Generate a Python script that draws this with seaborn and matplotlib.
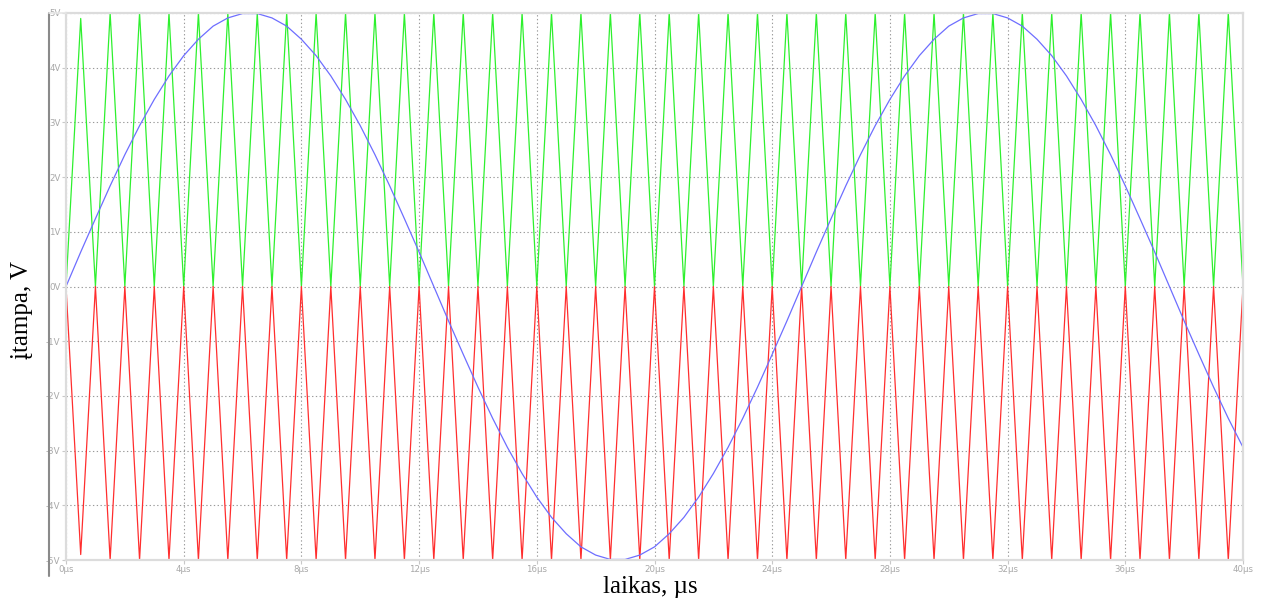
import numpy as np
import pandas as pd
import matplotlib
matplotlib.use("Agg")
import matplotlib.pyplot as plt
from matplotlib.lines import Line2D
import seaborn as sns

# --- waveform data (time in µs, voltage in V) ---
# modulating sine, sampled every 0.5 µs
sine_t = [k * 0.5 for k in range(81)]
sine_v = [0.00, 0.63, 1.24, 1.84, 2.41, 2.94, 3.42, 3.85, 4.22, 4.52,
          4.76, 4.91, 4.99, 4.99, 4.91, 4.76, 4.52, 4.22, 3.85, 3.42,
          2.94, 2.41, 1.84, 1.24, 0.63, 0.00, -0.63, -1.24, -1.84, -2.41,
          -2.94, -3.42, -3.85, -4.22, -4.52, -4.76, -4.91, -4.99, -4.99, -4.91,
          -4.76, -4.52, -4.22, -3.85, -3.42, -2.94, -2.41, -1.84, -1.24, -0.63,
          0.00, 0.63, 1.24, 1.84, 2.41, 2.94, 3.42, 3.85, 4.22, 4.52,
          4.76, 4.91, 4.99, 4.99, 4.91, 4.76, 4.52, 4.22, 3.85, 3.42,
          2.94, 2.41, 1.84, 1.24, 0.63, 0.00, -0.63, -1.24, -1.84, -2.41,
          -2.94]

# triangular carriers: one peak per 1 µs period, zero at whole microseconds
carrier_period = 1.0
pos_peaks = [4.9] + [5.0] * 39
neg_peaks = [-4.9] + [-5.0] * 39

y_ticks = [5, 4, 3, 2, 1, 0, -1, -2, -3, -4, -5]
y_tick_labels = ["5V", "4V", "3V", "2V", "1V", "0V", "-1V", "-2V", "-3V", "-4V", "-5V"]
x_ticks = [0, 4, 8, 12, 16, 20, 24, 28, 32, 36, 40]
x_tick_labels = ["0µs", "4µs", "8µs", "12µs", "16µs", "20µs", "24µs",
                 "28µs", "32µs", "36µs", "40µs"]


def carrier_frame(peaks, name):
    t, v = [0.0], [0.0]
    for k, p in enumerate(peaks):
        t += [(k + 0.5) * carrier_period, (k + 1) * carrier_period]
        v += [p, 0.0]
    return pd.DataFrame({"t": t, "v": v, "series": name})


df_pos = carrier_frame(pos_peaks, "pos")
df_neg = carrier_frame(neg_peaks, "neg")
df_sine = pd.DataFrame({"t": sine_t, "v": sine_v, "series": "sine"})

sns.set_theme(style="white")
plt.rcParams["font.family"] = ["DejaVu Sans"]

fig = plt.figure(figsize=(12.61, 5.99), dpi=100)
ax = fig.add_axes([66 / 1261, 1 - 560 / 599, (1243 - 66) / 1261, (560 - 13) / 599])

lw = 0.9
sns.lineplot(data=df_pos, x="t", y="v", ax=ax, color="#2ef02e", lw=lw,
             sort=False, estimator=None)
sns.lineplot(data=df_neg, x="t", y="v", ax=ax, color="#ff2e2e", lw=lw,
             sort=False, estimator=None)
sns.lineplot(data=df_sine, x="t", y="v", ax=ax, color="#6e6eff", lw=lw,
             sort=False, estimator=None)

ax.set_xlim(0, 40)
ax.set_ylim(-5, 5)
ax.set_xticks(x_ticks)
ax.set_xticklabels(x_tick_labels)
ax.set_yticks(y_ticks)
ax.set_yticklabels(y_tick_labels)
ax.set_xlabel("")
ax.set_ylabel("")

ax.grid(True, color="#9a9a9a", linestyle=(0, (1.2, 2.2)), linewidth=0.8)
ax.tick_params(axis="both", which="major", length=3, width=0.8,
               color="#c8c8c8", labelcolor="#a8a8a8", labelsize=6.2, pad=1,
               left=True, bottom=True)
ax.tick_params(axis="x", pad=0.5)
for side in ["left", "bottom", "top", "right"]:
    ax.spines[side].set_visible(True)
    ax.spines[side].set_color("#dcdcdc")
    ax.spines[side].set_linewidth(1.6)

# window edge to the left of the tick labels
fig.add_artist(Line2D([48.5 / 1261, 48.5 / 1261], [1 - 13 / 599, 1 - 576 / 599],
                      transform=fig.transFigure, color="#8a8a8a", lw=1.5))
fig.add_artist(Line2D([48.5 / 1261, 66 / 1261], [1 - 13 / 599, 1 - 13 / 599],
                      transform=fig.transFigure, color="#e6e6e6", lw=1.2))

serif = ["Liberation Serif", "DejaVu Serif"]
fig.text(650 / 1261, 1 - 593 / 599, "laikas, µs", family=serif, fontsize=18,
         ha="center", va="baseline", color="black")
fig.text(22 / 1261, 1 - 310 / 599, "įtampa, V", family=serif, fontsize=18,
         ha="center", va="center", rotation=90, color="black")

fig.savefig("out.png", dpi=100)
